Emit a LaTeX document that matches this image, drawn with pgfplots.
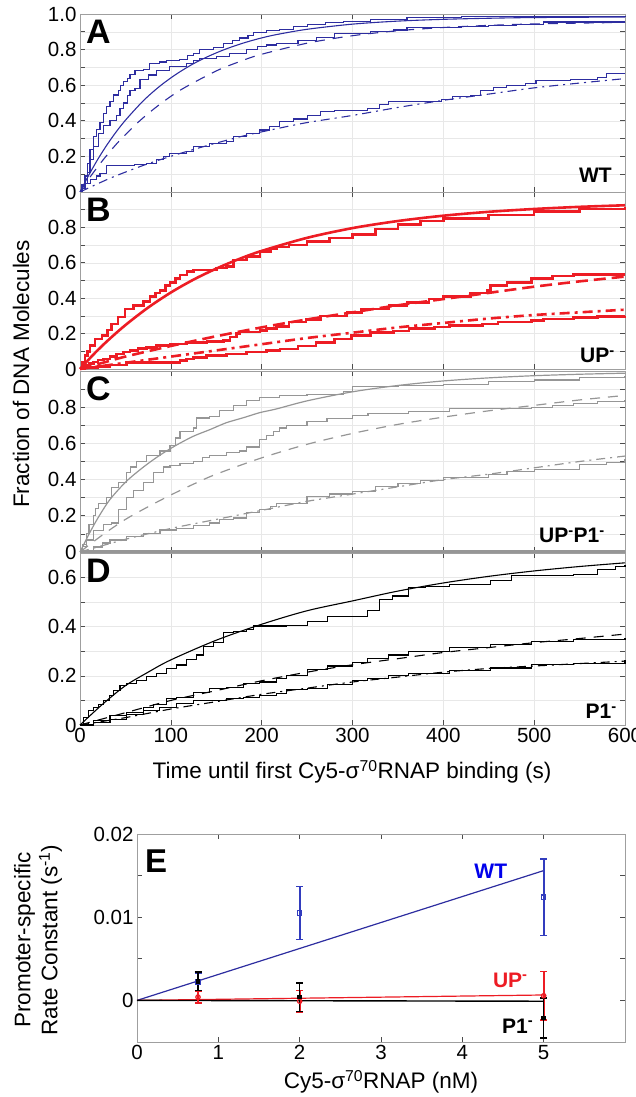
\documentclass[border=0pt]{standalone}
\usepackage{fontspec}
\setmainfont{Liberation Sans}
\usepackage{pgfplots}
\pgfplotsset{compat=1.18}
\definecolor{ablue}{RGB}{45,45,160}
\definecolor{eblue}{RGB}{50,60,190}
\definecolor{bred}{RGB}{237,28,36}
\definecolor{cgray}{RGB}{150,150,150}
\definecolor{wtblue}{RGB}{0,0,235}
\pgfplotsset{
  base/.style={scale only axis, anchor=south west, clip=false,
    /pgf/number format/assume math mode=true,
    axis line style={draw=gray!75, line width=0.8pt},
    tick style={draw=gray!60!black, line width=0.6pt},
    major tick length=5pt, minor tick length=5pt,
    tick label style={font=\fontsize{20.5}{22}\selectfont},
  },
  tpanel/.style={base, width=545pt, xmin=0, xmax=600, ymin=0,
    xtick={0,100,...,600}, xticklabels={},
    grid=both, major grid style={gray!18,line width=0.5pt}, minor grid style={gray!18,line width=0.5pt}},
}
\tikzset{
  plab/.style={anchor=north west, inner sep=0pt, xshift=6pt, yshift=-6pt, font=\bfseries\fontsize{34}{34}\selectfont},
  nlab/.style={anchor=south east, inner sep=0pt, font=\bfseries\fontsize{21}{21}\selectfont},
  dsh/.style={dash pattern=on 10pt off 8pt},
  dshdot/.style={dash pattern=on 9pt off 5pt on 2pt off 5pt},
}
\begin{document}
\begin{tikzpicture}
\path[use as bounding box] (0pt,0pt) rectangle (635pt,1097pt);

% ---------------- A ----------------
\begin{axis}[tpanel, at={(80pt,905pt)}, height=178pt, ymax=1.0,
  ytick={0,0.2,0.4,0.6,0.8,1.0}, yticklabels={0,0.2,0.4,0.6,0.8,1.0},
  minor ytick={0.1,0.3,0.5,0.7,0.9}]
\addplot[ablue, line width=1.1pt, const plot] coordinates {(0,0)(3,0.04)(5.5,0.09)(8,0.16)(11,0.24)(14.7,0.31)(18,0.35)(22,0.39)(26,0.44)(29,0.48)(33,0.51)(36.7,0.545)(42,0.57)(45,0.6)(47.7,0.62)(52,0.64)(55,0.66)(60.5,0.68)(70,0.69)(77,0.72)(88,0.73)(95,0.74)(110,0.745)(118,0.765)(125,0.78)(132,0.80)(147,0.81)(158,0.835)(168,0.85)(176,0.865)(185,0.88)(191,0.895)(205,0.906)(220,0.915)(235,0.93)(250,0.94)(270,0.95)(290,0.96)(320,0.97)(360,0.978)(420,0.985)(500,0.988)(600,0.99)};
\addplot[ablue, line width=1.1pt, const plot] coordinates {(0,0)(3,0.02)(5.5,0.05)(8,0.11)(11,0.18)(14.7,0.255)(20,0.33)(25.7,0.376)(33,0.404)(40,0.43)(44,0.47)(47.7,0.50)(52,0.54)(55,0.57)(60.5,0.58)(66,0.63)(75,0.657)(84,0.685)(99,0.704)(117,0.723)(125,0.74)(132,0.75)(150,0.76)(165,0.78)(183,0.80)(195,0.815)(205,0.826)(216,0.835)(240,0.85)(260,0.87)(280,0.89)(320,0.90)(345,0.91)(360,0.925)(420,0.93)(450,0.935)(480,0.94)(510,0.955)(600,0.955)};
\addplot[ablue, line width=1.1pt, const plot] coordinates {(0,0)(2,0.04)(5.5,0.05)(12,0.07)(18,0.09)(22,0.105)(29,0.15)(51,0.15)(60,0.155)(73,0.16)(84,0.18)(92,0.2)(99,0.217)(117,0.227)(125,0.255)(143,0.273)(161,0.283)(169,0.31)(183,0.33)(198,0.348)(209,0.367)(220,0.395)(235,0.41)(250,0.43)(265,0.45)(280,0.46)(317,0.47)(330,0.49)(340,0.506)(398,0.52)(410,0.535)(430,0.544)(441,0.572)(455,0.585)(470,0.60)(490,0.61)(502,0.628)(540,0.63)(570,0.642)(580,0.665)(600,0.665)};
\addplot[ablue, line width=1.1pt, smooth] coordinates {(0,0)(10,0.098)(20,0.187)(30,0.267)(40,0.339)(51,0.409)(70,0.514)(88,0.595)(106,0.662)(125,0.721)(143,0.766)(161,0.804)(180,0.837)(198,0.863)(216,0.884)(250,0.914)(300,0.943)(350,0.960)(400,0.970)(450,0.976)(500,0.980)(600,0.983)};
\addplot[ablue, line width=1.1pt, dsh, smooth] coordinates {(0,0)(10,0.076)(20,0.145)(30,0.209)(44,0.291)(66,0.401)(88,0.493)(112,0.577)(150,0.68)(176,0.733)(198,0.771)(250,0.836)(300,0.878)(350,0.906)(400,0.924)(450,0.936)(500,0.944)(600,0.953)};
\addplot[ablue, line width=1.1pt, dshdot, smooth] coordinates {(0,0)(33,0.077)(70,0.15)(106,0.21)(143,0.265)(180,0.315)(216,0.355)(250,0.39)(300,0.43)(350,0.475)(400,0.515)(450,0.55)(500,0.585)(550,0.612)(600,0.637)};
\node[plab] at (rel axis cs:0,1) {A};
\node[nlab, xshift=-13pt, yshift=9pt] at (rel axis cs:1,0) {WT};
\end{axis}

% ---------------- B ----------------
\begin{axis}[tpanel, at={(80pt,728pt)}, height=177pt, ymax=1.0,
  ytick={0,0.2,0.4,0.6,0.8}, yticklabels={0,0.2,0.4,0.6,0.8},
  minor ytick={0.1,0.3,0.5,0.7,0.9}]
\addplot[bred, line width=2.6pt, const plot] coordinates {(0,0)(3,0.04)(5.5,0.076)(8,0.1)(11,0.133)(16.5,0.17)(24,0.19)(30,0.22)(35,0.255)(42,0.294)(49.5,0.34)(58.7,0.36)(70,0.38)(77,0.41)(83,0.43)(88,0.445)(94,0.47)(99,0.49)(105,0.51)(110,0.53)(118,0.55)(125,0.56)(150,0.57)(161,0.58)(169,0.616)(183,0.634)(198,0.663)(210,0.68)(216,0.69)(230,0.70)(250,0.72)(275,0.74)(300,0.76)(325,0.79)(350,0.815)(375,0.835)(400,0.85)(450,0.87)(500,0.89)(550,0.905)(600,0.918)};
\addplot[bred, line width=2.6pt, smooth] coordinates {(0,0)(15,0.083)(30,0.158)(50,0.248)(75,0.347)(100,0.432)(125,0.505)(150,0.567)(175,0.621)(200,0.667)(250,0.741)(300,0.796)(350,0.836)(400,0.866)(450,0.888)(500,0.904)(550,0.916)(600,0.925)};
\addplot[bred, line width=2.6pt, const plot] coordinates {(0,0)(3,0.01)(5.5,0.02)(10,0.03)(14.7,0.04)(20,0.05)(26,0.057)(33,0.07)(40,0.085)(48,0.095)(55,0.104)(64,0.115)(73,0.123)(84,0.133)(99,0.142)(117,0.15)(140,0.155)(158,0.161)(165,0.18)(172,0.2)(176,0.21)(198,0.218)(205,0.23)(216,0.24)(230,0.265)(249,0.28)(265,0.3)(294,0.32)(310,0.34)(340,0.36)(360,0.375)(384,0.395)(400,0.41)(430,0.43)(448,0.445)(452,0.47)(470,0.49)(497,0.51)(520,0.525)(543,0.535)(600,0.535)};
\addplot[bred, line width=2.6pt, dash pattern=on 12pt off 6pt, smooth] coordinates {(0,0)(25,0.035)(50,0.07)(100,0.13)(150,0.185)(200,0.235)(250,0.28)(300,0.32)(350,0.36)(400,0.395)(450,0.43)(500,0.465)(550,0.495)(600,0.522)};
\addplot[bred, line width=2.6pt, const plot] coordinates {(0,0)(5.5,0.01)(20,0.015)(33,0.023)(51,0.038)(110,0.048)(117,0.057)(125,0.066)(139,0.076)(161,0.085)(183,0.095)(205,0.104)(220,0.114)(240,0.13)(260,0.15)(280,0.17)(299,0.19)(320,0.205)(345,0.215)(362,0.228)(390,0.237)(407,0.246)(443,0.255)(460,0.265)(497,0.275)(510,0.283)(543,0.29)(570,0.295)(600,0.298)};
\addplot[bred, line width=2.6pt, dash pattern=on 10pt off 5pt on 3pt off 5pt, smooth] coordinates {(0,0)(50,0.035)(100,0.07)(150,0.105)(200,0.14)(250,0.175)(300,0.205)(350,0.235)(400,0.26)(450,0.285)(500,0.305)(550,0.32)(600,0.335)};
\node[plab] at (rel axis cs:0,1) {B};
\node[nlab, xshift=-10pt, yshift=6pt] at (rel axis cs:1,0) {UP\textsuperscript{-}};
\end{axis}

% ---------------- C ----------------
\begin{axis}[tpanel, at={(80pt,545pt)}, height=181pt, ymax=1.0,
  ytick={0,0.2,0.4,0.6,0.8}, yticklabels={0,0.2,0.4,0.6,0.8},
  minor ytick={0.1,0.3,0.5,0.7,0.9}]
\addplot[cgray, line width=3pt] coordinates {(0,0)(600,0)};
\addplot[cgray, line width=1.2pt, const plot] coordinates {(0,0)(3,0.04)(7,0.10)(10,0.15)(14.7,0.2)(17,0.24)(20,0.27)(29,0.30)(35,0.357)(42,0.385)(51,0.44)(56,0.47)(62,0.50)(73,0.535)(88,0.558)(99,0.59)(105,0.63)(110,0.667)(125,0.685)(128,0.74)(143,0.75)(154,0.78)(169,0.81)(183,0.835)(198,0.855)(220,0.864)(250,0.87)(290,0.888)(300,0.916)(350,0.92)(400,0.925)(450,0.94)(500,0.95)(550,0.965)(600,0.973)};
\addplot[cgray, line width=1.2pt, smooth] coordinates {(0,0)(10,0.1)(20,0.19)(33,0.29)(51,0.39)(70,0.47)(88,0.535)(106,0.59)(125,0.64)(143,0.676)(161,0.714)(180,0.742)(198,0.77)(216,0.79)(250,0.835)(300,0.885)(350,0.92)(400,0.945)(450,0.962)(500,0.974)(550,0.982)(600,0.988)};
\addplot[cgray, line width=1.2pt, const plot] coordinates {(0,0)(3,0.03)(7,0.066)(14.7,0.12)(26,0.15)(35,0.16)(42,0.235)(51,0.30)(59,0.338)(70,0.385)(81,0.44)(92,0.47)(99,0.48)(110,0.49)(125,0.50)(135,0.52)(143,0.535)(161,0.55)(176,0.558)(183,0.58)(198,0.62)(205,0.645)(213,0.667)(220,0.685)(227,0.70)(250,0.72)(272,0.738)(300,0.755)(317,0.766)(362,0.776)(407,0.794)(497,0.80)(520,0.81)(543,0.82)(570,0.83)(600,0.84)};
\addplot[cgray, line width=1.2pt, dsh, smooth] coordinates {(0,0)(25,0.095)(50,0.18)(75,0.25)(100,0.315)(125,0.375)(150,0.43)(200,0.52)(250,0.595)(300,0.655)(350,0.705)(400,0.745)(450,0.78)(500,0.81)(550,0.84)(600,0.865)};
\addplot[cgray, line width=1.2pt, const plot] coordinates {(0,0)(2,0.01)(15,0.028)(25,0.05)(33,0.066)(51,0.085)(70,0.103)(88,0.122)(106,0.13)(125,0.145)(143,0.16)(154,0.178)(169,0.188)(183,0.216)(198,0.235)(210,0.25)(216,0.27)(250,0.306)(275,0.32)(300,0.334)(325,0.36)(350,0.38)(375,0.395)(400,0.41)(450,0.43)(470,0.445)(500,0.456)(550,0.485)(580,0.495)(600,0.513)};
\addplot[cgray, line width=1.2pt, dshdot, smooth] coordinates {(0,0)(50,0.07)(100,0.13)(150,0.18)(200,0.23)(250,0.28)(300,0.32)(350,0.36)(400,0.40)(450,0.43)(500,0.465)(550,0.50)(600,0.53)};
\node[plab] at (rel axis cs:0,1) {C};
\node[nlab, xshift=-20pt, yshift=9pt] at (rel axis cs:1,0) {UP\textsuperscript{-}P1\textsuperscript{-}};
\end{axis}

% ---------------- D ----------------
\begin{axis}[tpanel, at={(80pt,372pt)}, height=172pt, ymax=0.7,
  ytick={0,0.2,0.4,0.6}, yticklabels={0,0.2,0.4,0.6},
  minor ytick={0.1,0.3,0.5},
  xticklabels={0,100,200,300,400,500,600}]
\addplot[black, line width=1.1pt, const plot] coordinates {(0,0)(3.7,0.03)(9,0.058)(14.7,0.072)(20,0.085)(26,0.10)(32,0.12)(37,0.14)(44,0.16)(51,0.168)(62,0.18)(73,0.196)(84,0.21)(95,0.23)(106,0.244)(117,0.265)(128,0.285)(136,0.32)(147,0.334)(158,0.375)(169,0.382)(183,0.39)(191,0.403)(227,0.405)(250,0.42)(272,0.44)(317,0.465)(330,0.51)(344,0.525)(362,0.56)(380,0.565)(407,0.573)(452,0.587)(475,0.607)(543,0.614)(570,0.634)(590,0.645)(600,0.65)};
\addplot[black, line width=1.1pt, smooth] coordinates {(0,0)(25,0.085)(50,0.16)(75,0.215)(100,0.265)(150,0.345)(200,0.41)(250,0.465)(300,0.505)(350,0.545)(400,0.578)(450,0.605)(500,0.627)(550,0.645)(600,0.66)};
\addplot[black, line width=1.1pt, const plot] coordinates {(0,0)(15,0.017)(33,0.037)(51,0.05)(70,0.072)(81,0.085)(95,0.106)(106,0.113)(125,0.134)(143,0.148)(161,0.154)(180,0.168)(198,0.175)(216,0.19)(227,0.2)(250,0.225)(272,0.24)(300,0.255)(317,0.27)(340,0.285)(362,0.30)(407,0.314)(452,0.327)(497,0.341)(543,0.348)(600,0.355)};
\addplot[black, line width=1.1pt, dsh, smooth] coordinates {(0,0)(50,0.05)(100,0.10)(150,0.14)(200,0.18)(250,0.215)(300,0.245)(350,0.27)(400,0.295)(450,0.315)(500,0.335)(550,0.352)(600,0.37)};
\addplot[black, line width=1.1pt, const plot] coordinates {(0,0)(15,0.01)(33,0.023)(51,0.044)(70,0.058)(88,0.072)(106,0.086)(125,0.10)(161,0.106)(180,0.113)(198,0.12)(216,0.127)(227,0.143)(250,0.15)(272,0.164)(300,0.18)(317,0.19)(340,0.2)(362,0.21)(407,0.222)(452,0.232)(497,0.245)(543,0.252)(600,0.263)};
\addplot[black, line width=1.1pt, dshdot, smooth] coordinates {(0,0)(50,0.03)(100,0.065)(150,0.095)(200,0.125)(250,0.15)(300,0.175)(350,0.195)(400,0.215)(450,0.23)(500,0.24)(550,0.25)(600,0.26)};
\node[plab] at (rel axis cs:0,1) {D};
\node[nlab, xshift=-8pt, yshift=6pt] at (rel axis cs:1,0) {P1\textsuperscript{-}};
\end{axis}

% ---------------- E ----------------
\begin{axis}[base, at={(137pt,55pt)}, width=488pt, height=208pt,
  xmin=0, xmax=6, ymin=-0.005, ymax=0.02,
  xtick={0,1,2,3,4,5}, xticklabels={0,1,2,3,4,5},
  ytick={0,0.01,0.02}, yticklabels={0,0.01,0.02},
  minor ytick={-0.005,0.005,0.015}, scaled y ticks=false]
\addplot[ablue, line width=1.2pt] coordinates {(0,0)(5,0.0156)};
\addplot[bred, line width=1.2pt] coordinates {(0,0)(5,0.00065)};
\addplot[black, line width=1.4pt] coordinates {(0,0)(5,-0.0001)};
\addplot[color=eblue, only marks, mark=square, mark size=2.2pt, line width=1.2pt, mark options={draw=eblue, solid},
  error bars/.cd, y dir=both, y explicit, error bar style={color=eblue, line width=2pt}, error mark options={color=eblue, rotate=90, mark size=3.5pt, line width=1.6pt}]
  coordinates {(0.75,0.0022) +- (0,0.0011) (2,0.0105) +- (0,0.0032) (5,0.0124) +- (0,0.0046)};
\addplot[color=bred, only marks, mark=o, mark size=2.2pt, line width=1.2pt, mark options={draw=bred, solid},
  error bars/.cd, y dir=both, y explicit, error bar style={color=bred, line width=1.8pt}, error mark options={color=bred, rotate=90, mark size=3.5pt, line width=1.6pt}]
  coordinates {(0.75,0.0004) +- (0,0.0007) (2,-0.0001) +- (0,0.0013) (5,0.00056) +- (0,0.0029)};
\addplot[color=black, only marks, mark=square*, mark size=1.8pt, line width=1pt,
  error bars/.cd, y dir=both, y explicit, error bar style={color=black, line width=1.6pt}, error mark options={color=black, rotate=90, mark size=3.5pt, line width=1.4pt}]
  coordinates {(0.75,0.0023) +- (0,0.0011) (2,0.0004) +- (0,0.0017) (5,-0.0021) +- (0,0.0024)};
\node[plab, xshift=2pt, yshift=-10pt, font=\bfseries\fontsize{33}{33}\selectfont] at (rel axis cs:0,1) {E};
\node[inner sep=0pt, text=wtblue, font=\bfseries\fontsize{21}{21}\selectfont] at (axis cs:4.35,0.0155) {WT};
\node[inner sep=0pt, text=bred, font=\bfseries\fontsize{21}{21}\selectfont] at (axis cs:4.59,0.00245) {UP\textsuperscript{-}};
\node[inner sep=0pt, text=black, font=\bfseries\fontsize{21}{21}\selectfont] at (axis cs:4.68,-0.0031) {P1\textsuperscript{-}};
\end{axis}

% axis titles
\node[rotate=90, font=\fontsize{22.5}{27}\selectfont, inner sep=0pt] at (21pt,723pt) {Fraction of DNA Molecules};
\node[font=\fontsize{22.5}{27}\selectfont, inner sep=0pt] at (352pt,325pt) {Time until first Cy5-σ\textsuperscript{70}RNAP binding (s)};
\node[rotate=90, align=center, font=\fontsize{22.5}{27}\selectfont, inner sep=0pt] at (38pt,157pt) {Promoter-specific\\Rate Constant (s\textsuperscript{-1})};
\node[font=\fontsize{22.5}{27}\selectfont, inner sep=0pt] at (381pt,15pt) {Cy5-σ\textsuperscript{70}RNAP (nM)};
\end{tikzpicture}
\end{document}
